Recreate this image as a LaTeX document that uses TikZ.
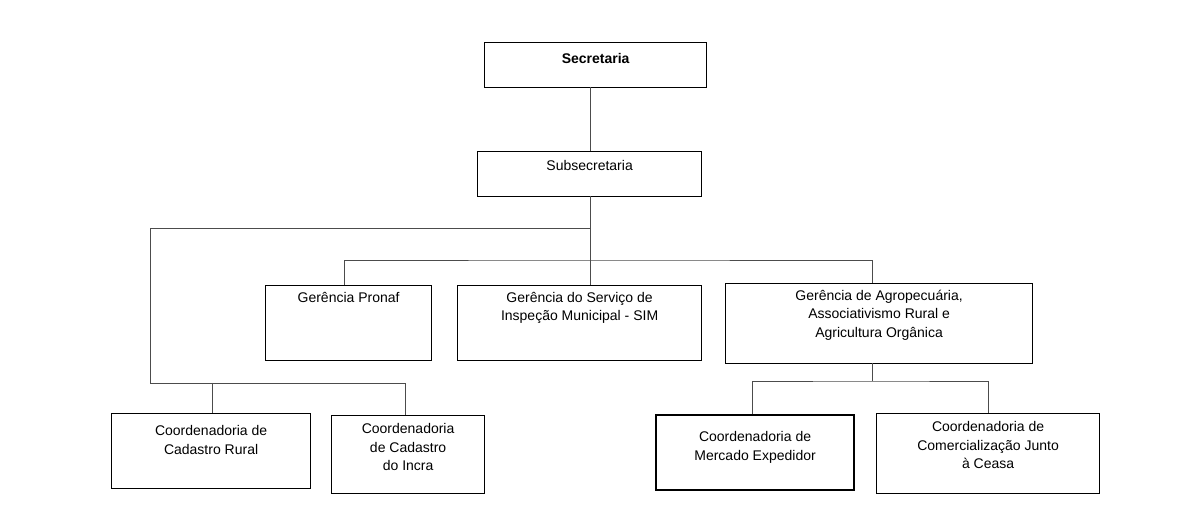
\documentclass[tikz,border=0pt]{standalone}
\usepackage{fontspec}
\setmainfont{Liberation Sans}
\begin{document}
\begin{tikzpicture}[x=0.75pt,y=-0.75pt,
  box/.style={draw,line width=0.9pt,anchor=north west,inner sep=0},
  txt/.style={anchor=north,align=center,font=\fontsize{10.5}{14}\selectfont,inner sep=0},
  ln/.style={draw=black!70,line width=0.6pt}]
\useasboundingbox (0,0) rectangle (1195,530);
\newcommand{\bx}[5]{\node[box,minimum width={(#4-#2)*0.75pt},minimum height={(#5-#3)*0.75pt}] (#1) at (#2,#3) {};}
\bx{sec}{484}{42}{706}{87}
\bx{sub}{477}{151}{701}{196}
\bx{pro}{265}{285}{431}{360}
\bx{sim}{457}{285}{701}{360}
\bx{agr}{725}{283}{1032}{363}
\bx{cr}{111}{413}{310}{488}
\bx{ci}{331}{415}{484}{493}
\node[box,line width=1.6pt,minimum width={198*0.75pt},minimum height={75*0.75pt}] (me) at (655,414) {};
\bx{co}{876}{413}{1099}{493}
\node[txt,font=\fontsize{10.5}{14}\selectfont\bfseries] at ([yshift=-8pt]sec.north) {Secretaria};
\node[txt] at ([yshift=-6.5pt]sub.north) {Subsecretaria};
\node[txt] at ([yshift=-5pt]pro.north) {Gerência Pronaf};
\node[txt] at ([yshift=-5pt]sim.north) {Gerência do Serviço de\\Inspeção Municipal - SIM};
\node[txt] at ([yshift=-5pt]agr.north) {Gerência de Agropecuária,\\Associativismo Rural e\\Agricultura Orgânica};
\node[txt] at ([yshift=-9pt]cr.north) {Coordenadoria de\\Cadastro Rural};
\node[txt] at ([yshift=-6pt]ci.north) {Coordenadoria\\de Cadastro\\do Incra};
\node[txt] at ([yshift=-13pt]me.north) {Coordenadoria de\\Mercado Expedidor};
\node[txt] at ([yshift=-6pt]co.north) {Coordenadoria de\\Comercialização Junto\\à Ceasa};
\coordinate (j1) at (590,228);
\coordinate (j2) at (590,260);
\coordinate (j3) at (872,381);
\draw[ln] (590,87) -- (590,151);
\draw[ln] (590,196) -- (j2);
\draw[ln] (344,285) |- (j2) -| (872,283);
\draw[ln] (j2) -- (590,285);
\draw[ln] (j1) -| (150,383) -| (405,415);
\draw[ln] (212,383) -- (212,413);
\draw[ln] (872,363) -- (j3);
\draw[ln] (752,414) |- (j3) -| (988,413);
\end{tikzpicture}
\end{document}
